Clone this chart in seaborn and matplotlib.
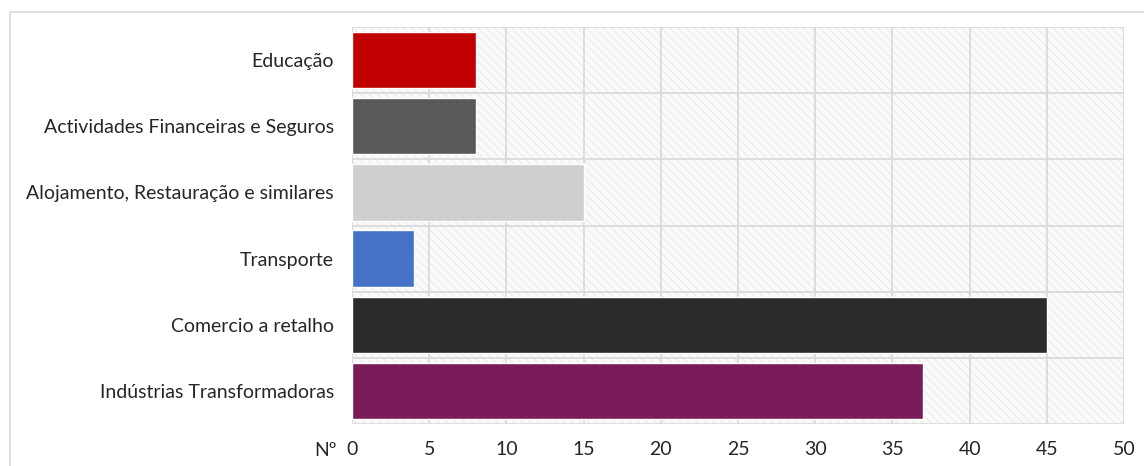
import numpy as np
import pandas as pd
import matplotlib
matplotlib.use('Agg')
import matplotlib.pyplot as plt
import seaborn as sns
from matplotlib.patches import Rectangle
from matplotlib.lines import Line2D

# data
categories = [
    "Educação",
    "Actividades Financeiras e Seguros",
    "Alojamento, Restauração e similares",
    "Transporte",
    "Comercio a retalho",
    "Indústrias Transformadoras",
]
values = [8, 8, 15, 4, 45, 37]
bar_colors = ["#C00000", "#595959", "#D0CECE", "#4472C4", "#2B2B2B", "#7B1C5A"]
x_ticks = [0, 5, 10, 15, 20, 25, 30, 35, 40, 45, 50]

sns.set_style("white")
plt.rcParams['font.family'] = ['Lato', 'DejaVu Sans']
plt.rcParams['hatch.color'] = '#e3e3e3'
plt.rcParams['hatch.linewidth'] = 0.6

df = pd.DataFrame({"cat": categories, "n": values})

fig = plt.figure(figsize=(11.44, 4.66), dpi=100)
ax = fig.add_axes([352/1144, 1 - 424/466, (1124 - 352)/1144, (424 - 27)/466])

# hatched background of the plot area
ax.patch.set_facecolor('#fafafa')
ax.add_patch(Rectangle((0, 0), 1, 1, transform=ax.transAxes, facecolor='none',
                       hatch='\\\\\\\\', edgecolor='#e6e6e6', lw=0, zorder=0))

sns.barplot(data=df, x="n", y="cat", hue="cat", palette=bar_colors, orient="h",
            width=0.85, legend=False, ax=ax, saturation=1, zorder=3)

fs = 14
ax.set_xlim(0, 50)
ax.set_ylim(len(categories) - 0.5, -0.5)
ax.set_xticks(x_ticks)
ax.set_xticklabels([str(t) for t in x_ticks], fontsize=fs, color='#262626')
ax.tick_params(axis='y', labelsize=fs, labelcolor='#262626', length=0, pad=13)
ax.tick_params(axis='x', length=0, pad=12)
ax.set_xlabel("")
ax.set_ylabel("")

# grid: vertical lines at ticks, horizontal separators between categories
for t in x_ticks:
    ax.axvline(t, color='#dadada', lw=1.3, zorder=1)
for k in range(len(categories) + 1):
    ax.axhline(k - 0.5, color='#dadada', lw=1.3, zorder=1)
for s in ax.spines.values():
    s.set_visible(False)

fig.text(314/1144, 1 - 451/466, "Nº", fontsize=fs, color='#262626',
         ha='left', va='center')

# outer chart frame
fig.add_artist(Line2D([10/1144, 1], [1 - 12/466, 1 - 12/466], color='#d9d9d9', lw=1.2))
fig.add_artist(Line2D([10/1144, 10/1144], [0, 1 - 12/466], color='#d9d9d9', lw=1.2))

fig.savefig("out.png", dpi=100)
